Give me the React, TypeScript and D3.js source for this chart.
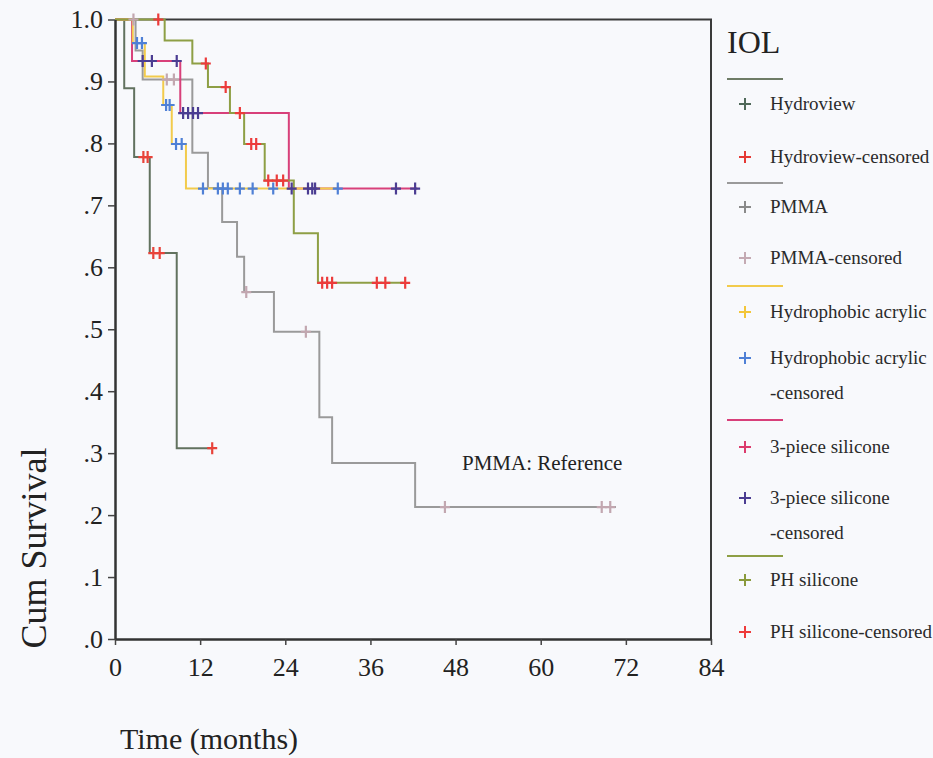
import { useEffect, useRef } from 'react'
import * as d3 from 'd3'

// Kaplan-Meier curves (months, cumulative survival)
const monthTicks = [0, 12, 24, 36, 48, 60, 72, 84]
const survivalTicks = [0, 0.1, 0.2, 0.3, 0.4, 0.5, 0.6, 0.7, 0.8, 0.9, 1.0]
const survivalLabels = ['.0', '.1', '.2', '.3', '.4', '.5', '.6', '.7', '.8', '.9', '1.0']

const hydroviewSteps: [number, number][] = [[1.3, 0.889], [2.7, 0.778], [4.9, 0.623], [8.7, 0.308]]
const hydroviewCensored: [number, number][] = [[4.0, 0.778], [4.6, 0.778], [5.4, 0.623], [6.3, 0.623], [13.7, 0.308]]

const pmmaSteps: [number, number][] = [
  [2.9, 0.95], [3.9, 0.903], [10.9, 0.785], [13.1, 0.728], [15.1, 0.673], [17.2, 0.617],
  [18.2, 0.56], [22.4, 0.496], [28.8, 0.358], [30.6, 0.284], [42.3, 0.213],
]
const pmmaCensored: [number, number][] = [
  [2.6, 1.0], [7.3, 0.903], [8.3, 0.903], [18.5, 0.56], [26.9, 0.496],
  [46.5, 0.213], [68.6, 0.213], [69.8, 0.213],
]

const acrylicSteps: [number, number][] = [[2.5, 0.962], [4.2, 0.908], [6.8, 0.862], [8.0, 0.799], [10.0, 0.727]]
const acrylicCensored: [number, number][] = [
  [3.1, 0.962], [3.8, 0.962], [7.2, 0.862], [7.7, 0.862], [8.6, 0.799], [9.4, 0.799],
  [12.4, 0.727], [14.5, 0.727], [15.2, 0.727], [15.9, 0.727], [17.6, 0.727],
  [19.4, 0.727], [22.3, 0.727], [31.4, 0.727],
]

const threePieceSteps: [number, number][] = [[2.4, 0.933], [9.2, 0.849], [24.5, 0.727]]
const threePieceCensored: [number, number][] = [
  [3.9, 0.933], [5.2, 0.933], [8.7, 0.933], [9.6, 0.849], [10.3, 0.849], [11.0, 0.849],
  [11.7, 0.849], [24.9, 0.727], [27.2, 0.727], [27.8, 0.727], [28.2, 0.727],
  [39.6, 0.727], [42.3, 0.727],
]

const phSteps: [number, number][] = [
  [7.0, 0.966], [10.9, 0.929], [13.1, 0.891], [16.2, 0.849], [18.2, 0.799],
  [21.1, 0.74], [25.2, 0.655], [28.6, 0.575],
]
const phCensored: [number, number][] = [
  [6.1, 1.0], [12.8, 0.929], [15.6, 0.891], [17.6, 0.849], [19.2, 0.799], [19.9, 0.799],
  [21.6, 0.74], [22.8, 0.74], [23.7, 0.74], [29.2, 0.575], [29.9, 0.575], [30.6, 0.575],
  [36.9, 0.575], [38.1, 0.575], [40.9, 0.575],
]

const groups = [
  { name: 'Hydroview', steps: hydroviewSteps, censored: hydroviewCensored, end: 13.7, line: '#62725f', mark: '#e8433a' },
  { name: 'PMMA', steps: pmmaSteps, censored: pmmaCensored, end: 70.6, line: '#9a9a9a', mark: '#c2a7b0' },
  { name: '3-piece silicone', steps: threePieceSteps, censored: threePieceCensored, end: 42.6, line: '#d8407a', mark: '#4b3d92' },
  { name: 'Hydrophobic acrylic', steps: acrylicSteps, censored: acrylicCensored, end: 31.4, line: '#f2cb4c', mark: '#4f80d6' },
  { name: 'PH silicone', steps: phSteps, censored: phCensored, end: 40.9, line: '#8e9f45', mark: '#ec3b3b' },
]

// legend rows: kind 'line' or 'plus'
const legendRows = [
  { kind: 'line', color: '#6e7c66', y: 79 },
  { kind: 'plus', color: '#50695a', y: 104, text: ['Hydroview'] },
  { kind: 'plus', color: '#e53935', y: 157, text: ['Hydroview-censored'] },
  { kind: 'line', color: '#9a9a9a', y: 183 },
  { kind: 'plus', color: '#8a8a8a', y: 207, text: ['PMMA'] },
  { kind: 'plus', color: '#c4aab3', y: 258, text: ['PMMA-censored'] },
  { kind: 'line', color: '#f2cb4c', y: 286 },
  { kind: 'plus', color: '#f3c63a', y: 312, text: ['Hydrophobic acrylic'] },
  { kind: 'plus', color: '#4f80d6', y: 358, text: ['Hydrophobic acrylic', '-censored'] },
  { kind: 'line', color: '#d8407a', y: 420 },
  { kind: 'plus', color: '#dc3b6d', y: 447, text: ['3-piece silicone'] },
  { kind: 'plus', color: '#4b3d92', y: 498, text: ['3-piece silicone', '-censored'] },
  { kind: 'line', color: '#8e9f45', y: 556 },
  { kind: 'plus', color: '#8a9a3c', y: 580, text: ['PH silicone'] },
  { kind: 'plus', color: '#ee3b3b', y: 632, text: ['PH silicone-censored'] },
]

const W = 933
const H = 758
const FONT = '"Liberation Serif", "Times New Roman", serif'

export default function App() {
  const svgRef = useRef<SVGSVGElement>(null)

  useEffect(() => {
    if (!svgRef.current) return
    const svg = d3.select(svgRef.current)
    svg.selectAll('*').remove()

    svg.append('rect').attr('width', W).attr('height', H).attr('fill', '#f8f9fc')

    const x = d3.scaleLinear().domain([0, 84]).range([115, 711])
    const y = d3.scaleLinear().domain([0, 1]).range([639, 19.5])

    // frame (top and right)
    svg.append('path')
      .attr('d', `M${x(0)},${y(1)}H${x(84)}V${y(0)}`)
      .attr('fill', 'none')
      .attr('stroke', '#3a3a3a')
      .attr('stroke-width', 2)

    // curves
    const stepLine = d3.line<[number, number]>()
      .x(d => x(d[0]))
      .y(d => y(d[1]))
      .curve(d3.curveStepAfter)

    groups.forEach(g => {
      const last = g.steps[g.steps.length - 1][1]
      const pts: [number, number][] = [[0, 1], ...g.steps, [g.end, last]]
      svg.append('path')
        .attr('d', stepLine(pts))
        .attr('fill', 'none')
        .attr('stroke', g.line)
        .attr('stroke-width', 2)
    })

    // censored marks
    groups.forEach(g => {
      svg.append('g')
        .selectAll('path')
        .data(g.censored)
        .enter().append('path')
        .attr('d', d => {
          const cx = x(d[0])
          const cy = y(d[1])
          return `M${cx - 5},${cy}H${cx + 5}M${cx},${cy - 6}V${cy + 6}`
        })
        .attr('stroke', g.mark)
        .attr('stroke-width', 2.2)
        .attr('fill', 'none')
    })

    // axes
    const yAxis = svg.append('g')
      .attr('transform', `translate(${x(0)},0)`)
      .call(d3.axisLeft(y).tickValues(survivalTicks).tickSize(7).tickSizeOuter(0)
        .tickFormat((_d, i) => survivalLabels[i]))
    yAxis.select('.domain').attr('stroke', '#333').attr('stroke-width', 2.5)
    yAxis.selectAll('.tick line').attr('stroke', '#444').attr('stroke-width', 1.5)
    yAxis.selectAll('.tick text')
      .attr('font-family', FONT).attr('font-size', 26).attr('fill', '#222')
      .attr('x', -12)

    const xAxis = svg.append('g')
      .attr('transform', `translate(0,${y(0)})`)
      .call(d3.axisBottom(x).tickValues(monthTicks).tickSize(6).tickSizeOuter(0)
        .tickFormat(d => String(d)))
    xAxis.select('.domain').attr('stroke', '#333').attr('stroke-width', 2.5)
    xAxis.selectAll('.tick line').attr('stroke', '#444').attr('stroke-width', 1.5)
    xAxis.selectAll('.tick text')
      .attr('font-family', FONT).attr('font-size', 26).attr('fill', '#222')
      .attr('y', 19)

    // axis titles
    svg.append('text')
      .attr('transform', 'translate(46,548) rotate(-90)')
      .attr('text-anchor', 'middle')
      .attr('font-family', FONT).attr('font-size', 36).attr('fill', '#222')
      .text('Cum Survival')

    svg.append('text')
      .attr('x', 120).attr('y', 749)
      .attr('font-family', FONT).attr('font-size', 30).attr('fill', '#222')
      .text('Time (months)')

    svg.append('text')
      .attr('x', 462).attr('y', 470)
      .attr('font-family', FONT).attr('font-size', 21).attr('fill', '#222')
      .text('PMMA: Reference')

    // legend
    svg.append('text')
      .attr('x', 727).attr('y', 53)
      .attr('font-family', FONT).attr('font-size', 32).attr('fill', '#222')
      .text('IOL')

    const legend = svg.append('g')
    legendRows.forEach(r => {
      if (r.kind === 'line') {
        legend.append('line')
          .attr('x1', 727).attr('x2', 783).attr('y1', r.y).attr('y2', r.y)
          .attr('stroke', r.color).attr('stroke-width', 2)
      } else {
        legend.append('path')
          .attr('d', `M739,${r.y}H751M745,${r.y - 6}V${r.y + 6}`)
          .attr('stroke', r.color).attr('stroke-width', 2)
        ;(r.text || []).forEach((t, i) => {
          legend.append('text')
            .attr('x', 770).attr('y', r.y + 6 + i * 35)
            .attr('font-family', FONT).attr('font-size', 19).attr('fill', '#2a2a2a')
            .text(t)
        })
      }
    })
  }, [])

  return (
    <svg
      ref={svgRef}
      width={W}
      height={H}
      style={{ position: 'absolute', left: 0, top: 0 }}
    />
  )
}
